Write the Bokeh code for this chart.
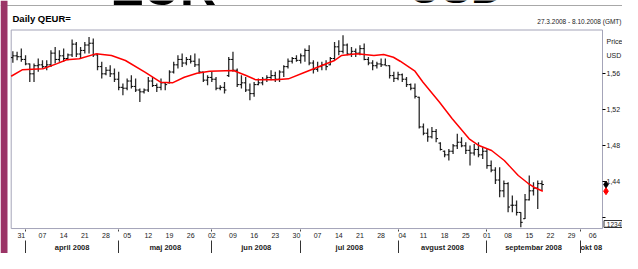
import numpy as np
import pandas as pd
from bokeh.plotting import figure
from bokeh.models import (Range1d, LinearAxis, FixedTicker, Label, CustomJSTickFormatter,
                          BoxAnnotation, Span)
from bokeh.embed import file_html
from bokeh.resources import INLINE

# ---------------- data ----------------
axis_start = "2008-03-27"
axis_end = "2008-10-08"

opens = [1.5780, 1.5800, 1.5790, 1.5760, 1.5710, 1.5600, 1.5690, 1.5700, 1.5680, 1.5700,
         1.5830, 1.5760, 1.5800, 1.5770, 1.5810, 1.5930, 1.5820, 1.5860, 1.5920, 1.5940,
         1.5810, 1.5680, 1.5600, 1.5640, 1.5600, 1.5540, 1.5450, 1.5440, 1.5520, 1.5460,
         1.5420, 1.5400, 1.5420, 1.5520, 1.5470, 1.5450, 1.5500, 1.5500, 1.5620, 1.5700,
         1.5760, 1.5720, 1.5760, 1.5740, 1.5700, 1.5620, 1.5530, 1.5560, 1.5540, 1.5440,
         1.5450, 1.5580, 1.5760, 1.5640, 1.5480, 1.5500, 1.5420, 1.5380, 1.5480, 1.5500,
         1.5540, 1.5560, 1.5580, 1.5540, 1.5620, 1.5680, 1.5740, 1.5770, 1.5750, 1.5800,
         1.5860, 1.5720, 1.5650, 1.5680, 1.5700, 1.5700, 1.5770, 1.5900, 1.5850, 1.5920,
         1.5820, 1.5850, 1.5830, 1.5880, 1.5760, 1.5720, 1.5690, 1.5710, 1.5700, 1.5690,
         1.5580, 1.5550, 1.5590, 1.5540, 1.5480, 1.5440, 1.5340, 1.5010, 1.4940, 1.4900,
         1.4960, 1.4830, 1.4740, 1.4700, 1.4740, 1.4800, 1.4840, 1.4800, 1.4750, 1.4720,
         1.4760, 1.4700, 1.4740, 1.4580, 1.4530, 1.4420, 1.4300, 1.4380, 1.4140, 1.4140,
         1.4060, 1.3990, 1.4200, 1.4300, 1.4330, 1.4380]
highs = [1.5851, 1.5844, 1.5881, 1.5807, 1.5714, 1.5714, 1.5770, 1.5751, 1.5751, 1.5862,
         1.5899, 1.5862, 1.5881, 1.5825, 1.5981, 1.5955, 1.5899, 1.5955, 1.6010, 1.5992,
         1.5825, 1.5733, 1.5677, 1.5696, 1.5659, 1.5622, 1.5492, 1.5547, 1.5585, 1.5547,
         1.5436, 1.5436, 1.5566, 1.5566, 1.5492, 1.5547, 1.5510, 1.5640, 1.5733, 1.5807,
         1.5825, 1.5788, 1.5807, 1.5825, 1.5770, 1.5622, 1.5585, 1.5622, 1.5566, 1.5473,
         1.5510, 1.5788, 1.5844, 1.5659, 1.5585, 1.5566, 1.5492, 1.5510, 1.5547, 1.5566,
         1.5585, 1.5640, 1.5622, 1.5640, 1.5696, 1.5770, 1.5788, 1.5807, 1.5825, 1.5881,
         1.5918, 1.5751, 1.5733, 1.5733, 1.5751, 1.5788, 1.5955, 1.5973, 1.6029, 1.5936,
         1.5899, 1.5881, 1.5918, 1.5936, 1.5788, 1.5751, 1.5733, 1.5770, 1.5770, 1.5696,
         1.5622, 1.5622, 1.5603, 1.5566, 1.5492, 1.5492, 1.5344, 1.5047, 1.4992, 1.5010,
         1.4988, 1.4840, 1.4747, 1.4766, 1.4821, 1.4933, 1.4895, 1.4840, 1.4803, 1.4821,
         1.4840, 1.4784, 1.4766, 1.4636, 1.4562, 1.4562, 1.4414, 1.4396, 1.4247, 1.4192,
         1.4062, 1.4266, 1.4470, 1.4396, 1.4414, 1.4414]
lows = [1.5722, 1.5751, 1.5733, 1.5696, 1.5510, 1.5510, 1.5622, 1.5659, 1.5640, 1.5677,
        1.5714, 1.5733, 1.5733, 1.5751, 1.5788, 1.5788, 1.5770, 1.5825, 1.5825, 1.5788,
        1.5640, 1.5547, 1.5585, 1.5566, 1.5510, 1.5418, 1.5362, 1.5418, 1.5436, 1.5399,
        1.5288, 1.5381, 1.5399, 1.5455, 1.5399, 1.5418, 1.5418, 1.5492, 1.5603, 1.5659,
        1.5677, 1.5696, 1.5714, 1.5677, 1.5603, 1.5510, 1.5473, 1.5510, 1.5418, 1.5418,
        1.5381, 1.5566, 1.5622, 1.5455, 1.5436, 1.5399, 1.5307, 1.5344, 1.5473, 1.5473,
        1.5510, 1.5529, 1.5510, 1.5510, 1.5566, 1.5659, 1.5714, 1.5733, 1.5714, 1.5733,
        1.5696, 1.5603, 1.5622, 1.5640, 1.5640, 1.5696, 1.5751, 1.5807, 1.5825, 1.5807,
        1.5788, 1.5788, 1.5807, 1.5751, 1.5696, 1.5640, 1.5659, 1.5677, 1.5696, 1.5547,
        1.5510, 1.5529, 1.5510, 1.5455, 1.5418, 1.5325, 1.4992, 1.4918, 1.4844, 1.4881,
        1.4840, 1.4747, 1.4673, 1.4636, 1.4710, 1.4766, 1.4784, 1.4710, 1.4581, 1.4692,
        1.4673, 1.4655, 1.4544, 1.4507, 1.4377, 1.4229, 1.4229, 1.4062, 1.4062, 1.4025,
        1.3895, 1.3988, 1.4192, 1.4247, 1.4099, 1.4303]
closes = [1.5800, 1.5790, 1.5760, 1.5710, 1.5600, 1.5690, 1.5700, 1.5680, 1.5700, 1.5830,
          1.5760, 1.5800, 1.5770, 1.5810, 1.5930, 1.5820, 1.5860, 1.5920, 1.5940, 1.5810,
          1.5680, 1.5600, 1.5640, 1.5600, 1.5540, 1.5450, 1.5440, 1.5520, 1.5460, 1.5420,
          1.5400, 1.5420, 1.5520, 1.5470, 1.5450, 1.5500, 1.5480, 1.5620, 1.5700, 1.5760,
          1.5720, 1.5760, 1.5740, 1.5700, 1.5620, 1.5530, 1.5560, 1.5540, 1.5440, 1.5450,
          1.5420, 1.5760, 1.5640, 1.5480, 1.5500, 1.5420, 1.5380, 1.5480, 1.5500, 1.5540,
          1.5560, 1.5580, 1.5540, 1.5620, 1.5680, 1.5740, 1.5770, 1.5750, 1.5800, 1.5860,
          1.5720, 1.5650, 1.5680, 1.5700, 1.5680, 1.5770, 1.5900, 1.5850, 1.5920, 1.5820,
          1.5850, 1.5830, 1.5880, 1.5760, 1.5720, 1.5690, 1.5710, 1.5700, 1.5690, 1.5580,
          1.5550, 1.5590, 1.5540, 1.5480, 1.5440, 1.5350, 1.5010, 1.4940, 1.4900, 1.4960,
          1.4880, 1.4760, 1.4700, 1.4740, 1.4800, 1.4840, 1.4800, 1.4750, 1.4720, 1.4760,
          1.4700, 1.4740, 1.4580, 1.4530, 1.4420, 1.4300, 1.4380, 1.4120, 1.4140, 1.4060,
          1.3950, 1.4200, 1.4300, 1.4330, 1.4380, 1.4370]

# moving average (red line), read at trading-day positions
ma_day = [-0.4, 2.2, 7.1, 10.3, 12.7, 15.7, 19.6, 23.3, 26.6, 31.2, 34.9, 37.7, 40.5,
          43.5, 46.5, 52.1, 55.1, 57.4, 62.1, 65.1, 69.0, 73.0, 76.0, 77.6, 81.3, 85.3,
          87.6, 89.9, 91.5, 95.0, 96.9, 100.8, 103.8, 107.8, 110.1, 113.1, 116.1, 119.4,
          121.7, 123.1, 125.2]
ma_val = [1.5573, 1.5644, 1.5656, 1.5711, 1.5756, 1.5767, 1.5822, 1.5803, 1.5748, 1.5618,
          1.5507, 1.5500, 1.5562, 1.5607, 1.5629, 1.5637, 1.5581, 1.5533, 1.5533, 1.5544,
          1.5618, 1.5692, 1.5748, 1.5803, 1.5822, 1.5803, 1.5814, 1.5784, 1.5740, 1.5629,
          1.5507, 1.5284, 1.5100, 1.4878, 1.4803, 1.4748, 1.4637, 1.4470, 1.4384, 1.4340,
          1.4296]

price_ticks = [1.40, 1.44, 1.48, 1.52, 1.56]
price_labels = ["", "1,44", "1,48", "1,52", "1,56"]
axis_captions = ["Price", "USD"]
month_names = ["april 2008", "maj 2008", "jun 2008", "jul 2008", "avgust 2008",
               "septembar 2008", "okt 08"]
banner_words = ["EUR", "USD"]
title_text = "Daily QEUR="
range_text = "27.3.2008 - 8.10.2008 (GMT)"
quote_box_text = ".1234"

# ---------------- layout ----------------
W, H = 622, 253
x_box = (-0.39, 139.3)            # trading-day extent of the price box
y_box = (1.3881, 1.6087)          # price extent of the price box
BOX_L, BOX_R = 10.7, 602.0        # box edges in pixels
BOX_T = 29.5                      # box top in pixels
PX_X = (BOX_R - BOX_L) / (x_box[1] - x_box[0])
PX_Y = 900.0
x_start = x_box[0] - BOX_L / PX_X
x_end = x_start + W / PX_X
y_end = y_box[1] + BOX_T / PX_Y
y_start = y_end - H / PX_Y

days = pd.bdate_range(axis_start, axis_end)
n = len(closes)
idx = np.arange(n)
mondays = [i for i, d in enumerate(days) if d.weekday() == 0]
monday_labels = [days[i].strftime("%d") for i in mondays]
month_first = [i for i in range(1, len(days)) if days[i].month != days[i - 1].month]
bounds = month_first + [x_box[1]]
month_centers = [(bounds[k] + bounds[k + 1]) / 2 for k in range(len(month_first))]

caption_y = [y_box[1] - 11.5 / PX_Y, y_box[1] - 25.5 / PX_Y]
y_major = price_ticks[1:] + caption_y
y_label_map = {f"{t:.4f}": s for t, s in zip(price_ticks + caption_y, price_labels + axis_captions)}

FONT = "Liberation Sans"
TXT = "#222222"

p = figure(width=W, height=H, output_backend="svg", toolbar_location=None,
           x_range=Range1d(x_start, x_end), y_range=Range1d(y_start, y_end),
           y_axis_location="right", min_border=0)
p.outline_line_color = None
p.grid.visible = False
p.background_fill_color = "white"
p.border_fill_color = "white"

# page decoration: top rule, left strip, clipped banner
p.add_layout(Span(location=H - 5, location_units="screen", dimension="width",
                  line_color="#a8a8a8", line_width=1))
p.add_layout(BoxAnnotation(left=0, right=7, left_units="screen", right_units="screen",
                           fill_color="#9b3466", fill_alpha=1.0, line_color=None))
for word, bx, fs in zip(banner_words, [110, 408], ["50px", "45px"]):
    p.add_layout(Label(x=bx, y=H + 13, x_units="screen", y_units="screen", text=word,
                       text_baseline="alphabetic", text_font=FONT, text_font_size=fs,
                       text_font_style="bold", text_color="black"))

# plot box
p.quad(left=x_box[0], right=x_box[1], bottom=y_box[0], top=y_box[1],
       fill_color=None, line_color="#a4a4b8", line_width=1)

# price axis (fixed at right edge of box)
ya = p.yaxis[0]
ya.fixed_location = x_box[1]
ya.ticker = FixedTicker(ticks=y_major, minor_ticks=price_ticks)
ya.formatter = CustomJSTickFormatter(args=dict(labels=y_label_map),
                                     code="const s = labels[tick.toFixed(4)]; return s === undefined ? '' : s;")
ya.axis_line_color = None
ya.major_tick_in = 0
ya.major_tick_out = 0
ya.minor_tick_in = 0
ya.minor_tick_out = 3
ya.minor_tick_line_color = "black"
ya.major_label_standoff = 1
ya.major_label_text_font = FONT
ya.major_label_text_font_size = "7px"
ya.major_label_text_color = TXT

# day axis
xa = p.xaxis[0]
xa.fixed_location = y_box[0] - 1 / PX_Y
xa.ticker = FixedTicker(ticks=mondays, minor_ticks=month_first)
xa.formatter = CustomJSTickFormatter(args=dict(labels=monday_labels), code="return labels[index];")
xa.axis_line_color = None
xa.major_tick_in = 0
xa.major_tick_out = 0
xa.minor_tick_in = 0
xa.minor_tick_out = 2
xa.minor_tick_line_color = "#444444"
xa.major_label_standoff = 1
xa.major_label_text_font = FONT
xa.major_label_text_font_size = "7px"
xa.major_label_text_color = TXT

# month axis
mx = LinearAxis(ticker=FixedTicker(ticks=month_centers, minor_ticks=month_first),
                formatter=CustomJSTickFormatter(args=dict(labels=month_names),
                                                code="return labels[index];"),
                fixed_location=y_box[0] - 12 / PX_Y)
mx.axis_line_color = None
mx.major_tick_in = 0
mx.major_tick_out = 0
mx.minor_tick_in = 0
mx.minor_tick_out = 13
mx.minor_tick_line_color = "#333333"
mx.major_label_standoff = -11
mx.major_label_text_font = FONT
mx.major_label_text_font_size = "7.5px"
mx.major_label_text_font_style = "bold"
mx.major_label_text_color = TXT
p.add_layout(mx, "below")

# OHLC bars
p.segment(x0=idx, y0=lows, x1=idx, y1=highs, line_color="#2a2a2a", line_width=1.3)
p.segment(x0=idx - 0.45, y0=opens, x1=idx, y1=opens, line_color="black", line_width=1)
p.segment(x0=idx, y0=closes, x1=idx + 0.45, y1=closes, line_color="black", line_width=1)

# moving average
p.line(ma_day, ma_val, line_color="#ff0000", line_width=1.5)

# last-value markers at the price scale
mark_x = x_box[1] + 3.5 / PX_X
p.scatter(x=[mark_x], y=[closes[-1]], marker="diamond", size=7, color="black")
p.scatter(x=[mark_x], y=[ma_val[-1]], marker="diamond", size=7, color="#ff0000")

# texts
p.add_layout(Label(x=12, y=H - 12, x_units="screen", y_units="screen", text=title_text,
                   text_baseline="top", text_font=FONT, text_font_size="9.5px",
                   text_font_style="bold", text_color="black"))
p.add_layout(Label(x=621, y=H - 17, x_units="screen", y_units="screen", text=range_text,
                   text_align="right", text_baseline="top", text_font=FONT,
                   text_font_size="6.5px", text_color=TXT))
p.add_layout(Label(x=603.5, y=H - 227, x_units="screen", y_units="screen",
                   text=quote_box_text, text_baseline="bottom", text_font=FONT,
                   text_font_size="6.5px", text_color=TXT, border_line_color="#333333",
                   border_line_width=1, padding=1))

open("out.html", "w").write(file_html(p, INLINE))
